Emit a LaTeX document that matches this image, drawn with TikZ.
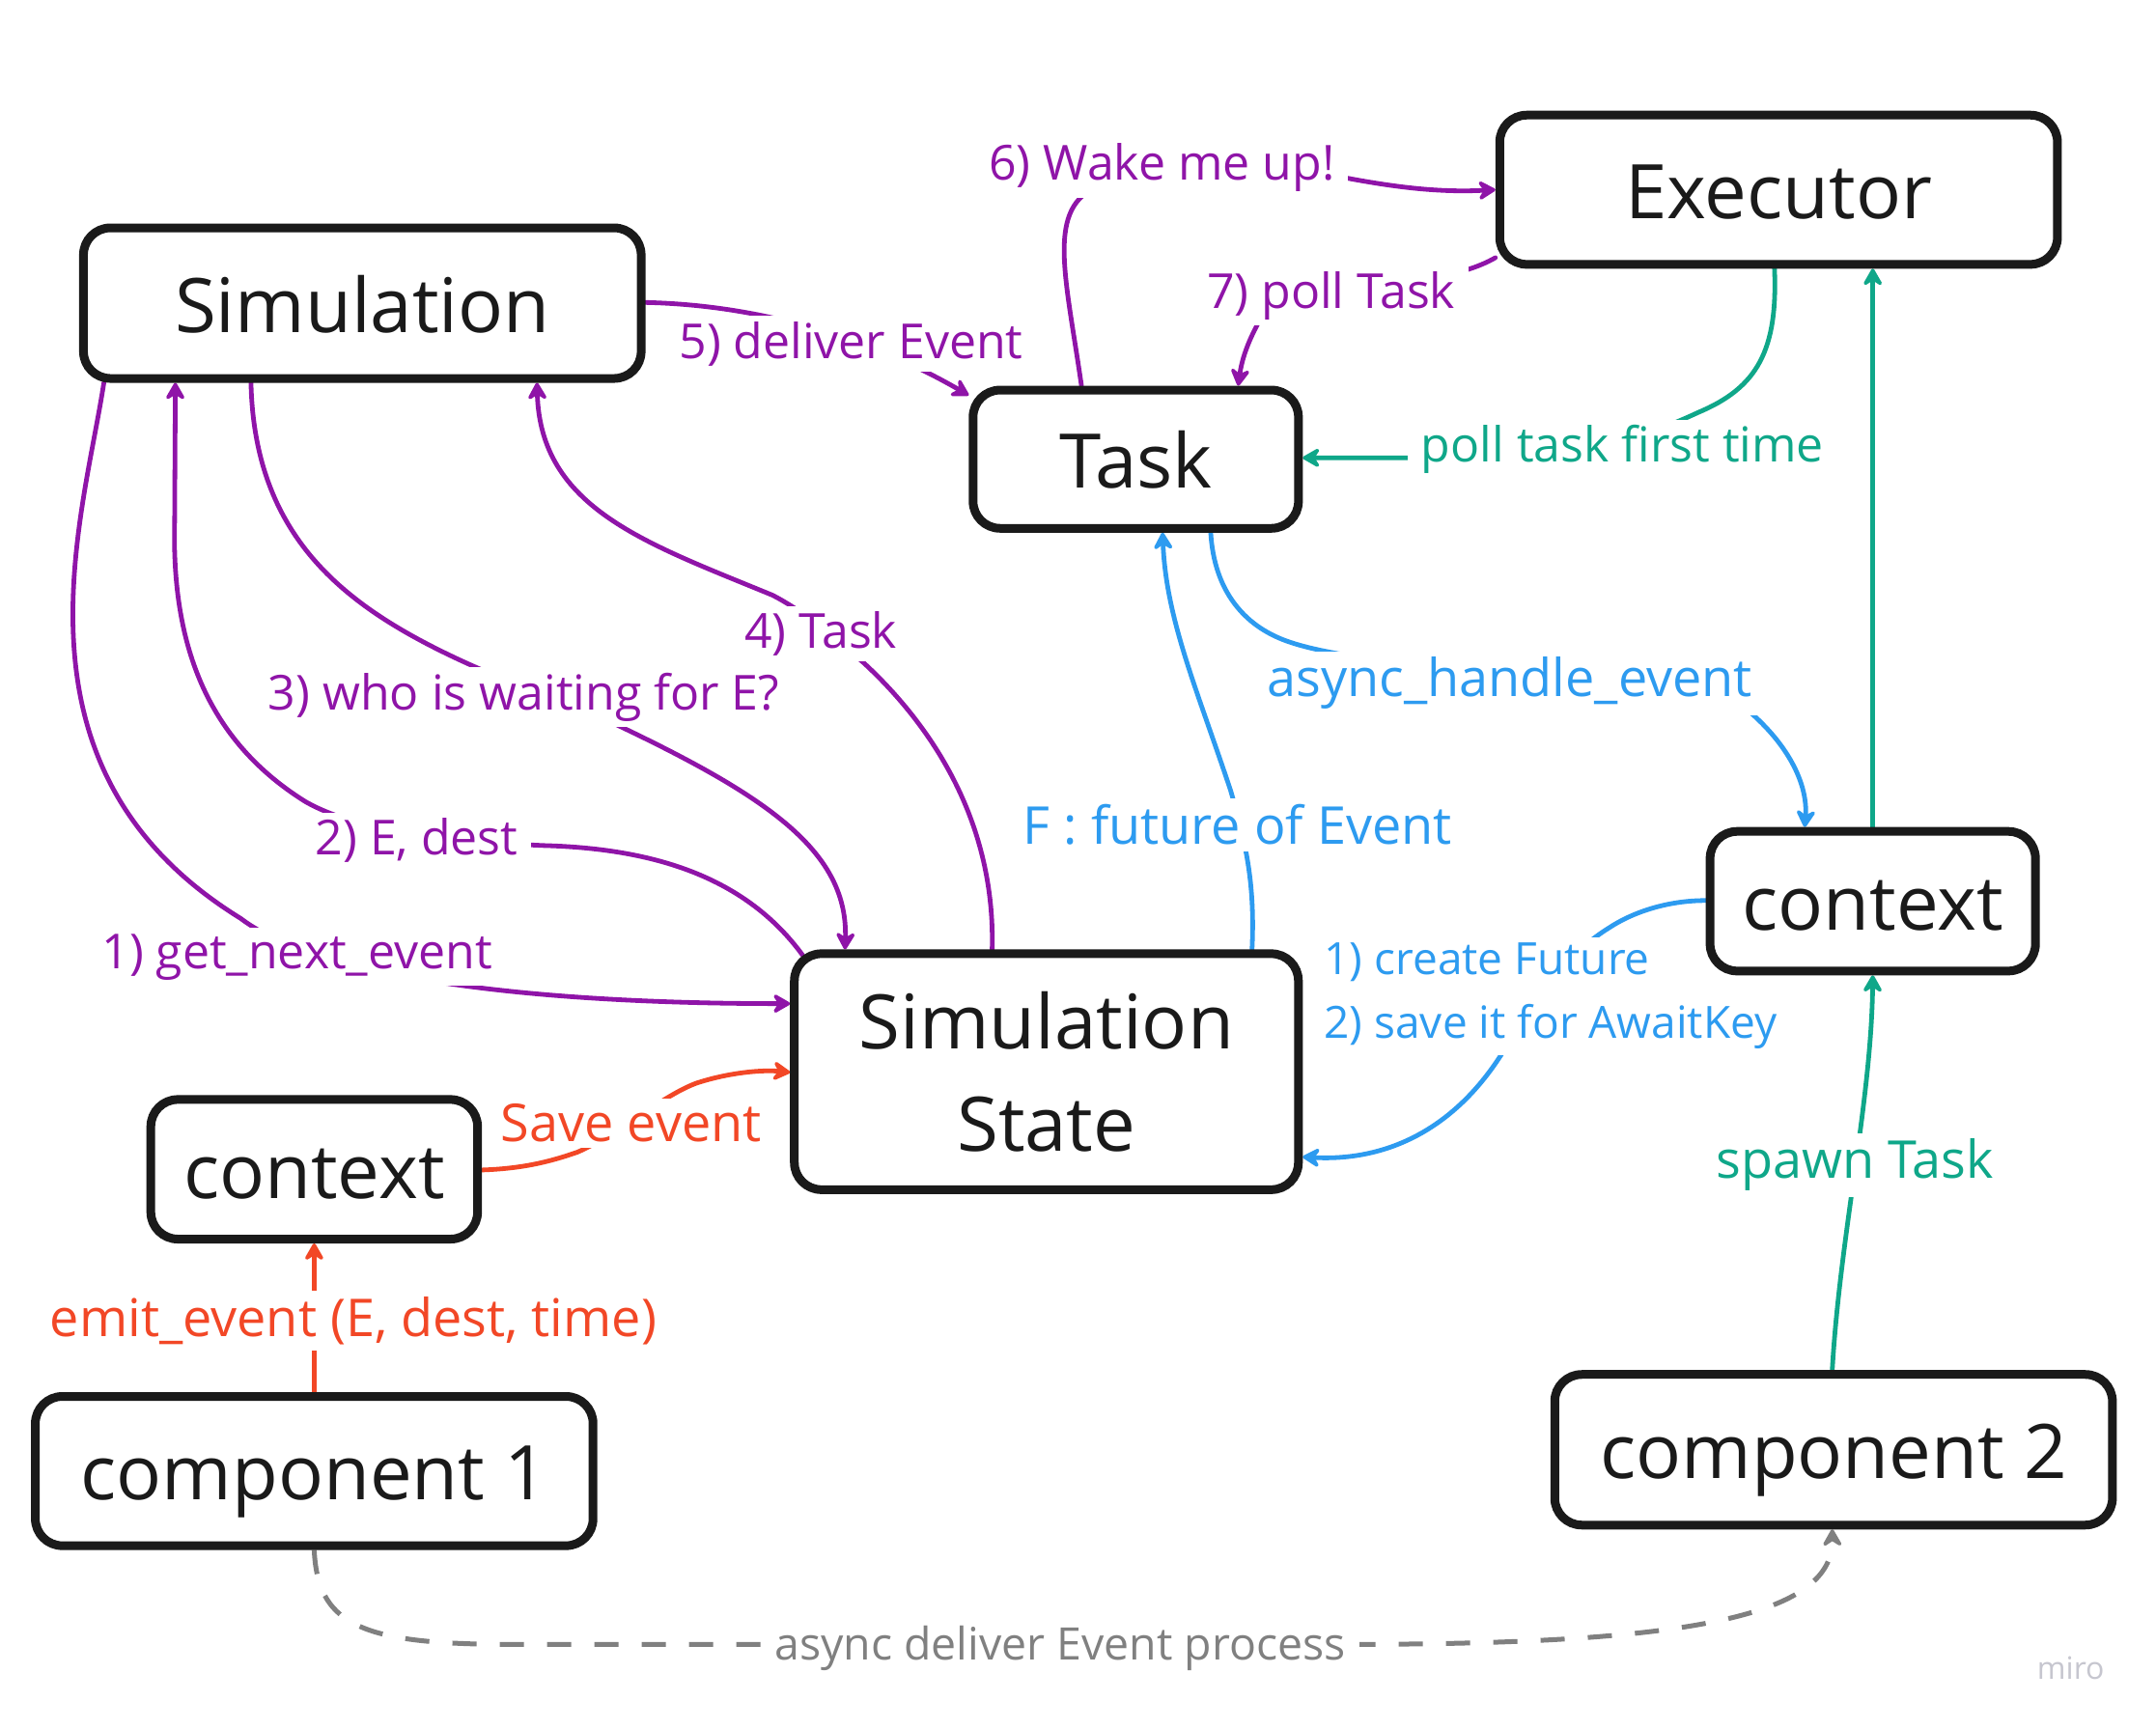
\documentclass[tikz,border=0pt]{standalone}
\usepackage{fontspec}
\setmainfont{Open Sans}
\usetikzlibrary{arrows.meta,calc}
\pgfdeclarelayer{bg}
\pgfsetlayers{bg,main}
\definecolor{cpurple}{HTML}{8F14A8}
\definecolor{cblue}{HTML}{2D9BF0}
\definecolor{cgreen}{HTML}{0FA789}
\definecolor{cred}{HTML}{F24726}
\definecolor{cgray}{HTML}{808080}
\definecolor{cink}{HTML}{1A1A1A}
\definecolor{cmiro}{HTML}{C6C6CF}
\tikzset{
  box/.style={draw=cink, text=cink, line width=4.5pt, rounded corners=14pt, fill=white,
    inner sep=0pt, align=center, font=\fontsize{39}{53}\selectfont},
  onebox/.style={box, text height=31pt, text depth=1pt},
  conn/.style={line width=2.4pt, line cap=round,
    -{Stealth[length=11pt,width=12.5pt,inset=4pt,round]}},
  lbl/.style={fill=white, inner xsep=7pt, inner ysep=3pt, font=\fontsize{25}{30}\selectfont},
  lblbig/.style={lbl, font=\fontsize{27}{32}\selectfont},
}
\begin{document}
\begin{tikzpicture}[x=0.712pt,y=-0.712pt]
\path[use as bounding box] (0,0) rectangle (1568,1257);
\begin{pgfonlayer}{bg}
\fill[white] (0,0) rectangle (1568,1257);
\end{pgfonlayer}

% boxes
\node[onebox, minimum width=288.8pt, minimum height=78pt] (sim) at (263.5,220.5) {Simulation};
\node[onebox, minimum width=288.8pt, minimum height=77.3pt] (exec) at (1293.5,138) {Executor};
\node[onebox, minimum width=168.5pt, minimum height=71.6pt] (task) at (826,334) {Task};
\node[box, minimum width=261pt, minimum height=122.2pt] (ss) at (761,779.5) {Simulation\\State};
\node[onebox, minimum width=169.2pt, minimum height=72.3pt] (ctxL) at (228.5,850.5) {context};
\node[onebox, minimum width=168.5pt, minimum height=72.3pt] (ctxR) at (1362,655.5) {context};
\node[onebox, minimum width=288.8pt, minimum height=77.3pt] (comp1) at (228.5,1070) {component 1};
\node[onebox, minimum width=288.8pt, minimum height=78pt] (comp2) at (1333.5,1054.5) {component 2};

\begin{pgfonlayer}{bg}
% purple connectors
\draw[conn, cpurple] ($(sim.south west)+(18,0)$) .. controls (60,380) and (0,560) .. (175,668)
  .. controls (230,710) and (380,730) .. ($(ss.west)+(0,-49.5)$);
\draw[conn, cpurple] ($(ss.north west)+(9,4)$) .. controls (540,635) and (470,617) .. (395,615)
  .. controls (330,612) and (260,605) .. (222,583)
  .. controls (145,535) and (125,460) .. (127,380) -- ($(sim.south west)+(70,0)$);
\draw[conn, cpurple] ($(sim.south west)+(125,0)$) .. controls (185,390) and (250,440) .. (330,478)
  .. controls (370,497) and (410,510) .. (446,526)
  .. controls (560,580) and (617,620) .. ($(ss.north west)+(40,0)$);
\draw[conn, cpurple] ($(ss.north west)+(147,0)$) .. controls (724,600) and (680,530) .. (628,482)
  .. controls (605,462) and (585,445) .. (562,433)
  .. controls (470,395) and (393,370) .. ($(sim.south west)+(333,0)$);
\draw[conn, cpurple] ($(sim.east)+(0,-0.5)$) .. controls (560,222) and (640,250) .. ($(task.north west)+(0,7)$);
\draw[conn, cpurple] ($(task.north west)+(82,0)$) .. controls (775,200) and (760,150) .. (800,135)
  .. controls (850,118) and (940,122) .. (982,130)
  .. controls (1020,137) and (1050,140) .. (exec.west);
\draw[conn, cpurple] ($(exec.south west)+(0,-8)$) .. controls (1040,215) and (930,205) .. (915,235)
  .. controls (907,250) and (903,262) .. ($(task.north west)+(196,0)$);
% blue connectors
\draw[conn, cblue] ($(ss.north west)+(336,0)$) .. controls (913,640) and (905,610) .. (895,575)
  .. controls (870,500) and (848,450) .. ($(task.south west)+(141,0)$);
\draw[conn, cblue] ($(task.south west)+(176,0)$) .. controls (883,430) and (905,455) .. (935,466)
  .. controls (1000,490) and (1200,490) .. (1268,514)
  .. controls (1300,540) and (1315,570) .. ($(ctxR.north west)+(72,0)$);
\draw[conn, cblue] ($(ctxR.west)+(0,-0.5)$) .. controls (1210,655) and (1185,665) .. (1170,675)
  .. controls (1130,700) and (1110,740) .. (1095,762)
  .. controls (1060,820) and (1010,845) .. ($(ss.east)+(0,62)$);
% green connectors
\draw[conn, cgreen] ($(exec.south west)+(203,0)$) .. controls (1293,255) and (1278,282) .. (1235,300)
  .. controls (1150,340) and (1080,333) .. (1024,333) -- ($(task.east)+(0,-1)$);
\draw[conn, cgreen] (ctxR.north) -- (ctxR.north |- exec.south);
\draw[conn, cgreen] ($(comp2.north west)+(205,0)$) .. controls (1338,900) and (1361,800) .. (ctxR.south);
% red connectors
\draw[conn, cred] (comp1.north) -- (ctxL.south);
\draw[conn, cred] ($(ctxL.east)+(0,0.5)$) .. controls (380,850) and (400,845) .. (420,838)
  .. controls (450,825) and (480,798) .. (506,788)
  .. controls (530,780) and (555,778) .. ($(ss.west)+(0,0.5)$);
% gray dashed
\draw[conn, cgray, line width=2.5pt, dash pattern=on 12.5pt off 12pt, line cap=butt] (comp1.south)
  .. controls (231,1180) and (260,1195) .. (360,1196) -- (1000,1196)
  .. controls (1230,1195) and (1333,1175) .. ($(comp2.south west)+(205,0)$);

% labels
\node[lbl, text=cpurple] (l1) at (216,696) {1) get\_next\_event};
\node[lbl, text=cpurple] (l2) at (303,611.5) {2) E, dest};
\node[lbl, text=cpurple] (l3) at (381,507) {3) who is waiting for E?};
\node[lbl, text=cpurple] (l4) at (597,461) {4) Task};
\node[lbl, text=cpurple] (l5) at (619,250) {5) deliver Event};
\node[lbl, text=cpurple] (l6) at (845,122) {6) Wake me up!};
\node[lbl, text=cpurple] (l7) at (968,215) {7) poll Task};
\node[lblbig, text=cblue] (lF) at (900,600) {F : future of Event};
\node[lblbig, text=cblue] (lA) at (1098,497) {async\_handle\_event};
\node[lbl, text=cblue, anchor=west, align=left, font=\fontsize{23}{33}\selectfont] (lC) at (953,724.5)
  {1) create Future\\2) save it for AwaitKey};
\node[lbl, text=cgreen] (lP) at (1180,327) {poll task first time};
\node[lblbig, text=cgreen] (lS) at (1349,847.5) {spawn Task};
\node[lblbig, text=cred] (lE) at (257,960.5) {emit\_event (E, dest, time)};
\node[lblbig, text=cred] (lSave) at (459,817) {Save event};
\node[lbl, text=cgray, font=\fontsize{23.2}{30}\selectfont] (lG) at (771,1199) {async deliver Event process};
\end{pgfonlayer}
\node[text=cmiro, inner sep=0pt, font=\fontsize{16}{20}\selectfont] (miro) at (1506,1213) {miro};
\end{tikzpicture}
\end{document}
